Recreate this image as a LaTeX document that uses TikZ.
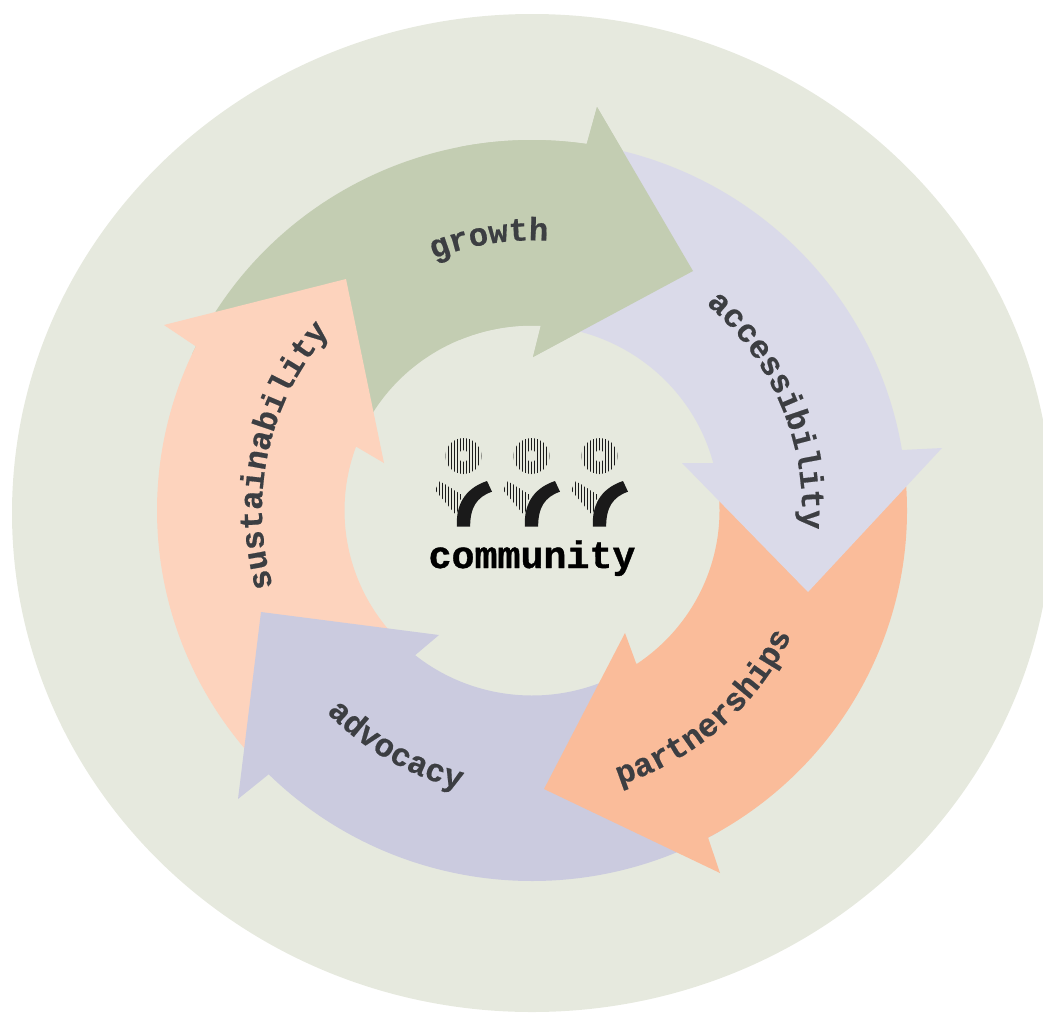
\documentclass[tikz,border=0pt]{standalone}
\usepackage{fontspec}
\usetikzlibrary{decorations.text}
\newfontfamily\labelfont[FakeBold=0.5]{Liberation Mono Bold}
\newfontfamily\titlefont[FakeBold=1]{Liberation Mono Bold}
\definecolor{ringcol}{HTML}{E6E9DE}
\definecolor{growthcol}{HTML}{C3CDB2}
\definecolor{accesscol}{HTML}{DADAE9}
\definecolor{partnercol}{HTML}{FABC9A}
\definecolor{advocacycol}{HTML}{CBCBDF}
\definecolor{sustaincol}{HTML}{FDD3BD}
\definecolor{labelcol}{HTML}{3C3E42}
\definecolor{logocol}{HTML}{1A1A1A}
% points on the big and on the small ellipse of the band
\def\bigpt#1{({532+375*cos(#1)},{510.5+370.5*sin(#1)})}
\def\smallpt#1{({532+187.5*cos(#1)},{510.5+185*sin(#1)})}
\def\bigarc#1#2{arc[start angle=#1,end angle=#2,x radius=375,y radius=370.5]}
\def\smallarc#1#2{arc[start angle=#1,end angle=#2,x radius=187.5,y radius=185]}
\def\growthpath{\bigpt{205} \bigarc{205}{278.4} -- (597,107) -- (693,271) -- (533,357) -- (541,325) -- \smallpt{272.7} \smallarc{272.7}{205} -- cycle}
\tikzset{
  arrowlabel/.style={decorate, decoration={text along path, text align=center, text={|\labelfont\fontsize{32.5}{32.5}\selectfont\color{labelcol}|#1}}},
  stripe/.style={draw=logocol, line width=1.6pt}
}
\newcommand{\arclabel}[4]{\path[arrowlabel={#4}] ({532+#3*cos(#1)},{510.5+#3*sin(#1)}) arc[start angle=#1,end angle=#2,radius=#3];}
\newcommand{\person}[1]{
  \begin{scope}[shift={(#1,456)}]
    \begin{scope}[even odd rule]
      \clip (0,0) circle (18) (0,0) circle (5.7);
      \foreach \i in {-6,...,6} \draw[stripe] (3*\i,-20) -- (3*\i,20);
    \end{scope}
    \begin{scope}
      \clip (-28.5,34) -- (-23.5,25) -- (-1.5,39) -- (-7,59.5) -- cycle;
      \foreach \i in {-10,...,-1} \draw[stripe] (3*\i,20) -- (3*\i,62);
    \end{scope}
    \fill[logocol] (-6.7,70.7) .. controls (-7.5,50) and (0,33) .. (23.5,25) -- (28.5,35.7) .. controls (13,41) and (6.5,52) .. (6.7,70.7) -- cycle;
  \end{scope}
}
\begin{document}
\begin{tikzpicture}[x=1pt,y=-1pt]
  \useasboundingbox (0,0) rectangle (1043,1012);
  \begin{scope}
    \clip (0,0) rectangle (1043,1012);
    \fill[ringcol] (532,513) ellipse [x radius=520,y radius=499];
  \end{scope}
  % tails go under the head of the arrow before them
  \fill[growthcol] \growthpath;
  \fill[sustaincol] \bigpt{138} \bigarc{138}{206.3} -- (164,325) -- (346,279) -- (384,463) -- (355,446) -- \smallpt{200.3} \smallarc{200.3}{138} -- cycle;
  \fill[advocacycol] \bigpt{60} \bigarc{60}{134.6} -- (238,799) -- (261,612) -- (439,635) -- (413,657) -- \smallpt{128.7} \smallarc{128.7}{60} -- cycle;
  \fill[partnercol] \bigpt{-5} \bigarc{-5}{62} -- (720,873) -- (544,789) -- (625,633) -- (636,663) -- \smallpt{56} \smallarc{56}{-5} -- cycle;
  \fill[accesscol] \bigpt{280} \bigarc{280}{350.6} -- (942,448) -- (808,592) -- (682,463) -- (714,463) -- \smallpt{345} \smallarc{345}{280} -- cycle;
  \begin{scope}
    \clip (460,0) rectangle (1043,1012);
    \fill[growthcol] \growthpath;
  \end{scope}
  \arclabel{201}{321}{270}{growth}
  \arclabel{277}{397}{270}{accessibility}
  \arclabel{109}{-11}{288}{partnerships}
  \arclabel{180}{60}{288}{advocacy}
  \arclabel{132.5}{252.5}{270}{sustainability}
  \person{463.5}
  \person{531.5}
  \person{599.5}
  \node[font=\titlefont\fontsize{38.3}{38.3}\selectfont, text=black, anchor=base, inner sep=0pt] (community) at (532,568) {community};
\end{tikzpicture}
\end{document}
